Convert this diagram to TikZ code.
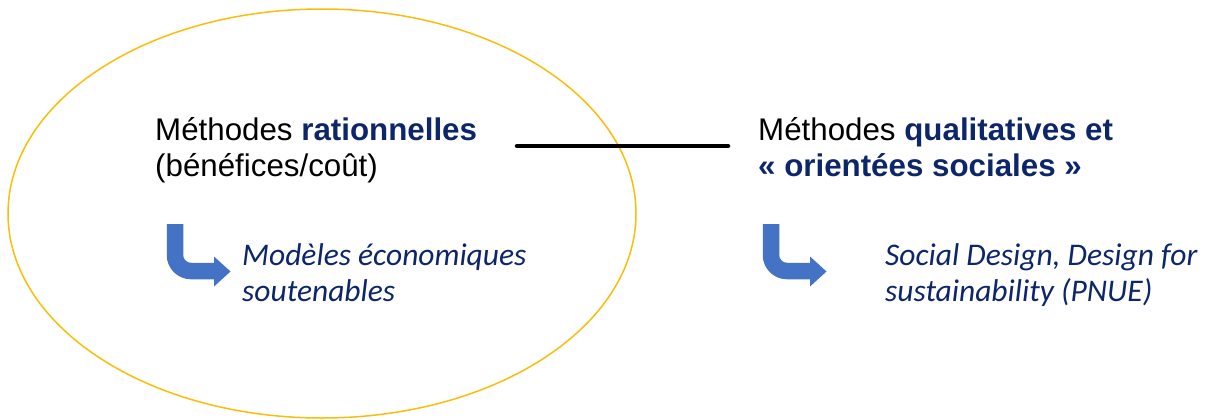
\documentclass[tikz,border=0pt]{standalone}
\usepackage{fontspec}
\setmainfont{Liberation Sans}
\newfontfamily\calibfont{Carlito}
\definecolor{navy}{RGB}{12,38,105}
\definecolor{gold}{RGB}{250,190,10}
\definecolor{arrowblue}{RGB}{68,114,196}
\tikzset{
  head/.style={anchor=base west, inner sep=0pt, font=\fontsize{31.3}{36}\selectfont},
  sub/.style={anchor=base west, inner sep=0pt, text=navy, font=\calibfont\itshape\fontsize{31.5}{36}\selectfont},
  bentshaft/.style={draw=arrowblue, line width=16.5pt, rounded corners=16pt},
  benthead/.style={fill=arrowblue}
}
\begin{document}
\begin{tikzpicture}[x=1pt,y=-1pt]
\useasboundingbox (0,0) rectangle (1210,420);
% ellipse
\draw[gold, line width=1.5pt] (322,213.5) ellipse [x radius=314, y radius=204.5];
% left heading
\node[head] (l1) at (155,140) {Méthodes \textbf{\color{navy}rationnelles}};
\node[head] (l2) at (155,176) {(bénéfices/coût)};
% right heading
\node[head] (r1) at (758,140) {Méthodes \textbf{\color{navy}qualitatives et}};
\node[head] (r2) at (758,176) {\textbf{\color{navy}« orientées sociales »}};
% connector line
\coordinate (ca) at (517,146);
\coordinate (cb) at (728,146);
\draw[line width=4.5pt, line cap=round] (ca) -- (cb);
% bent arrows
\foreach \dx/\nm in {0/la,596/ra}{
  \begin{scope}[xshift=\dx]
    \draw[bentshaft] (175,224) -- (175,271) -- (214.5,271);
    \fill[benthead] (214,256.5) -- (230.5,271.5) -- (214,286.5) -- cycle;
  \end{scope}
}
% sub texts
\node[sub] (ls1) at (242,265) {Modèles économiques};
\node[sub] (ls2) at (242,301) {soutenables};
\node[sub] (rs1) at (885,265) {Social Design, Design for};
\node[sub] (rs2) at (885,301) {sustainability (PNUE)};
\end{tikzpicture}
\end{document}
